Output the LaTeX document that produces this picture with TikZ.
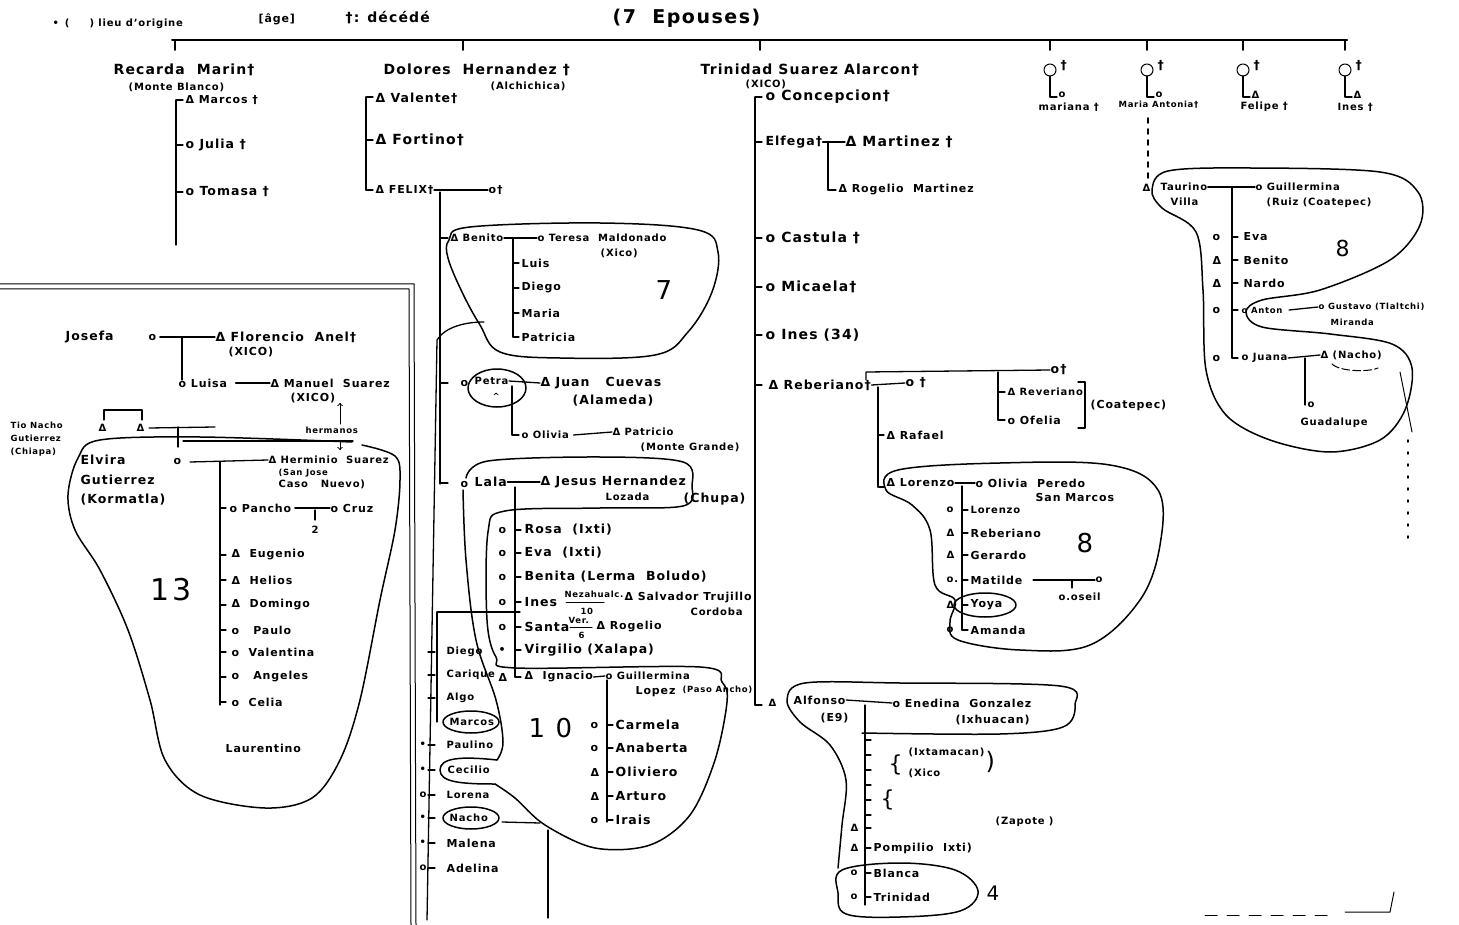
\documentclass[tikz,border=0pt]{standalone}
\usepackage{fontspec}
\setmainfont{DejaVu Sans}[LetterSpace=8]
\begin{document}
\begin{tikzpicture}[x=1pt,y=-1pt,
  line width=1.3pt, line cap=round, line join=round,
  every node/.style={inner sep=0pt, anchor=west},
  fA/.style={font=\fontsize{14}{14}\selectfont\bfseries},
  fB/.style={font=\fontsize{12.5}{12.5}\selectfont\bfseries},
  fC/.style={font=\fontsize{11}{11}\selectfont\bfseries},
  fD/.style={font=\fontsize{10}{10}\selectfont\bfseries},
  fE/.style={font=\fontsize{8.5}{8.5}\selectfont\bfseries},
  fN/.style={font=\fontsize{26}{26}\selectfont},
  blob/.style={line width=1.5pt},
  thinl/.style={line width=1pt},
  tick/.style={line width=1.2pt},
]
\useasboundingbox (0,0) rectangle (1459,925);
\fill[white] (0,0) rectangle (1459,925);

% ---------------- header
\node[fD] (h0) at (52,24) {•\, (\qquad) lieu d'origine};
\node[fC] (h1) at (258,19) {[âge]};
\node[fA] (h2) at (345,18) {†: décédé};
\node[font=\fontsize{19}{19}\selectfont\bfseries] (h3) at (612,18) {(7 \ Epouses)};
\draw[line width=2pt] (172,40) -- (1347,40);
\foreach \x in {175,463,760,1050,1147,1243,1345} \draw[line width=2pt] (\x,40) -- (\x,50);

% ---------------- Recarda
\node[fA] (rec) at (113,70) {Recarda \ Marin†};
\node[fD] (recp) at (128,87) {(Monte Blanco)};
\draw (176,100) -- (176,245);
\foreach \y in {100,145,192} \draw[tick] (176,\y) -- ++(7,0);
\node[fC] (marcos) at (185,100) {Δ Marcos †};
\node[fB] (julia) at (185,145) {o Julia †};
\node[fB] (tomasa) at (185,192) {o Tomasa †};

% ---------------- Dolores
\node[fA] (dol) at (383,70) {Dolores \ Hernandez †};
\node[fD] (dolp) at (490,86) {(Alchichica)};
\draw (366,97) -- (366,190);
\foreach \y in {97,140,190} \draw[tick] (366,\y) -- ++(7,0);
\node[fB] (val) at (375,98) {Δ Valente†};
\node[fA] (fort) at (375,140) {Δ Fortino†};
\node[fC] (felix) at (375,190) {Δ FELIX†};
\node[fC] (felixw) at (488,190) {o†};
\draw (felix.east) -- (felixw.west);
\draw (440,192) -- (440,484);
\foreach \y in {238,383,483} \draw[tick] (440,\y) -- ++(8,0);

% Benito
\node[fD] (ben) at (450,238) {Δ Benito};
\node[fD] (ter) at (537,238) {o Teresa \ Maldonado};
\node[fD] (terp) at (600,253) {(Xico)};
\draw (ben.east) -- (ter.west);
\draw (513,239) -- (513,337);
\foreach \y in {263,288,313,337} \draw[tick] (513,\y) -- ++(6,0);
\node[fC] (luis) at (521,263) {Luis};
\node[fC] (diego1) at (521,288) {Diego};
\node[fC] (maria1) at (521,313) {Maria};
\node[fC] (patr) at (521,337) {Patricia};
\node[fN] (n7) at (655,290) {7};
\draw[blob] plot[smooth cycle, tension=0.6] coordinates {(449,240) (470,227) (600,223) (698,230) (718,252) (712,292) (688,332) (655,355) (560,358) (500,352) (480,325) (462,292) (448,258)};
\draw (484,322) .. controls (465,322) and (445,327) .. (437,340) -- (427,920);

% Petra
\node[fC] (petrao) at (460,383) {o};
\node[fD] (petra) at (474,381) {Petra};
\node[fE] (petrac) at (492,396) {\^{}};
\draw[blob] (497,388) ellipse [x radius=29, y radius=19];
\node[fB] (juan) at (540,383) {Δ Juan \ \ Cuevas};
\node[fB] (juanp) at (572,401) {(Alameda)};
\draw (petra.east) -- (juan.west);
\draw (512,386) -- (512,435) -- (519,435);
\node[fD] (olivia) at (521,435) {o Olivia};
\node[fD] (patric) at (612,432) {Δ Patricio};
\node[fD] (patricp) at (640,447) {(Monte Grande)};
\draw (olivia.east) ++(4,0) -- (patric.west);

% Lala
\node[fC] (lalao) at (460,484) {o};
\node[fB] (lala) at (474,482) {Lala};
\node[fB] (jesus) at (540,482) {Δ Jesus Hernandez};
\node[fD] (lozada) at (605,497) {Lozada};
\node[fB] (chupa) at (683,499) {(Chupa)};
\draw (lala.east) -- (jesus.west);
\draw (515,487) -- (515,677);
\foreach \y in {530,553,577,602,627,650,677} \draw[tick] (515,\y) -- ++(6,0);
\node[fC] (m1) at (498,530) {o}; \node[fB] (rosa) at (524,530) {Rosa \ (Ixti)};
\node[fC] (m2) at (498,553) {o}; \node[fB] (eva1) at (524,553) {Eva \ (Ixti)};
\node[fC] (m3) at (498,577) {o}; \node[fB] (benita) at (524,577) {Benita (Lerma \ Boludo)};
\node[fC] (m4) at (498,602) {o}; \node[fB] (ines1) at (524,602) {Ines};
\node[fE] (nez) at (564,594) {Nezahualc.};
\draw[thinl] (566,602) -- (604,602);
\node[fE] (n10) at (580,611) {10};
\node[fC] (salv) at (624,598) {Δ Salvador Trujillo};
\node[fD] (cord) at (690,612) {Cordoba};
\node[fC] (m5) at (498,627) {o}; \node[fB] (santa) at (524,627) {Santa};
\node[fE] (verc) at (568,620) {Ver.};
\draw[thinl] (570,627) -- (592,627);
\node[fE] (n6) at (578,635) {6};
\node[fC] (rog2) at (596,627) {Δ Rogelio};
\node[fC] (m6) at (498,650) {•}; \node[fB] (virg) at (524,650) {Virgilio (Xalapa)};
\node[fC] (m7) at (498,677) {Δ}; \node[fC] (ignac) at (524,677) {Δ \ Ignacio};
\node[fD] (guil1) at (605,676) {o Guillermina};
\node[fC] (lopez) at (635,692) {Lopez};
\node[fE] (paso) at (682,690) {(Paso Ancho)};
\draw (ignac.east) -- (guil1.west);
\draw (607,680) -- (607,822);
\foreach \y in {725,748,772,796,820} \draw[tick] (607,\y) -- ++(6,0);
\node[fC] (c1o) at (590,725) {o}; \node[fB] (carm) at (615,725) {Carmela};
\node[fC] (c2o) at (590,748) {o}; \node[fB] (anab) at (615,748) {Anaberta};
\node[fC] (c3o) at (590,772) {Δ}; \node[fB] (oliv) at (615,772) {Oliviero};
\node[fC] (c4o) at (590,796) {Δ}; \node[fB] (art) at (615,796) {Arturo};
\node[fC] (c5o) at (590,820) {o}; \node[fB] (irais) at (615,820) {Irais};
\node[fN] (n10b) at (528,728) {1 0};

% left column (x = 427)
\draw (437,612) -- (520,612);
\draw (437,612) -- (437,722);
\foreach \y in {652,675,698,745,770,795,818,843,868} \draw[tick] (428,\y) -- ++(7,0);
\node[fD] (diego2) at (446,652) {Diego};
\node[fD] (cariq) at (446,675) {Carique};
\node[fD] (algo) at (446,698) {Algo};
\node[fD] (marc2) at (449,722) {Marcos};
\node[fD] (paul) at (446,745) {Paulino};
\node[fD] (cecil) at (447,770) {Cecilio};
\node[fD] (lorena) at (446,795) {Lorena};
\node[fD] (nacho1) at (449,818) {Nacho};
\node[fC] (malena) at (446,843) {Malena};
\node[fC] (adel) at (446,868) {Adelina};
\draw[blob] (471,722) ellipse [x radius=28, y radius=11];
\draw[blob] (471,818) ellipse [x radius=28, y radius=11];
\draw[blob] (497,760) .. controls (460,756) and (440,758) .. (440,770) .. controls (440,782) and (460,784) .. (495,784);
\foreach \p/\s in {745/•,770/•,795/o,818/•,843/•,868/o} \node[fD] at (419,\p) {\s};
\draw (502,822) -- (540,823);
\draw (548,830) -- (548,918);

% Lala blobs
\draw[blob] plot[smooth, tension=0.55] coordinates {(466,478) (488,461) (600,457) (683,462) (692,486) (683,506) (600,508) (505,511) (488,532) (487,620) (496,657) (516,668) (700,667) (722,682) (727,702) (715,760) (690,815) (650,845) (595,848) (545,825) (515,798) (495,784)};
\draw[blob] plot[smooth, tension=0.6] coordinates {(463,490) (466,560) (476,640) (496,700) (503,742) (497,760)};

% ---------------- Trinidad
\node[fA] (tri) at (700,70) {Trinidad Suarez Alarcon†};
\node[fD] (trip) at (745,84) {(XICO)};
\draw (755,97) -- (755,705);
\foreach \y in {97,142,238,287,335,385,705} \draw[tick] (755,\y) -- ++(7,0);
\node[fA] (conc) at (765,97) {o Concepcion†};
\node[fB] (elf) at (765,142) {Elfega†};
\node[fA] (mart) at (845,142) {Δ Martinez †};
\draw (elf.east) -- (mart.west);
\draw (828,143) -- (828,190) -- (836,190);
\node[fC] (rog1) at (838,190) {Δ Rogelio \ Martinez};
\node[fA] (cast) at (765,238) {o Castula †};
\node[fA] (mica) at (765,287) {o Micaela†};
\node[fA] (ines2) at (765,335) {o Ines (34)};
\node[fB] (reb) at (768,385) {Δ Reberiano†};
\node[fB] (rebw) at (905,383) {o †};
\draw (reb.east) -- (rebw.west);
\node[fB] (rebw2) at (1050,370) {o†};
\draw (866,380) -- (866,372) -- (rebw2.west);
\draw (998,372) -- (998,420);
\foreach \y in {392,420} \draw[tick] (998,\y) -- ++(7,0);
\node[fD] (rev) at (1007,392) {Δ Reveriano};
\node[fC] (ofe) at (1007,420) {o Ofelia};
\draw (1078,382) -- (1085,382) -- (1085,428) -- (1078,428);
\node[fC] (coat) at (1090,405) {(Coatepec)};
\draw (878,387) -- (878,487);
\foreach \y in {435,487} \draw[tick] (878,\y) -- ++(6,0);
\node[fC] (raf) at (886,435) {Δ Rafael};
\node[fC] (lor) at (886,483) {Δ Lorenzo};
\node[fC] (oli2) at (975,483) {o Olivia \ Peredo};
\node[fC] (sanm) at (1035,497) {San Marcos};
\draw (lor.east) -- (oli2.west);
\draw (962,486) -- (962,630);
\foreach \y in {510,533,555,580,605,630} \draw[tick] (962,\y) -- ++(6,0);
\node[fD] (l1) at (946,510) {o}; \node[fD] (lor2) at (970,510) {Lorenzo};
\node[fD] (l2) at (946,533) {Δ}; \node[fC] (reb2) at (970,533) {Reberiano};
\node[fD] (l3) at (946,555) {Δ}; \node[fC] (ger) at (970,555) {Gerardo};
\node[fD] (l4) at (946,580) {o.}; \node[fC] (mat) at (970,580) {Matilde};
\node[fD] (l5) at (946,605) {Δ}; \node[fC] (yoya) at (970,605) {Yoya};
\node[fD] (l6) at (946,630) {o}; \node[fC] (aman) at (970,630) {Amanda};
\node[fD] (matw) at (1095,580) {o};
\draw (mat.east) ++(10,0) -- (matw.west);
\draw (1072,580) -- (1072,588);
\node[fD] (oseil) at (1058,597) {o.oseil};
\node[fN] (n8a) at (1076,543) {8};
\draw[blob] plot[smooth cycle, tension=0.6] coordinates {(886,490) (898,470) (1000,463) (1110,465) (1158,490) (1160,545) (1140,600) (1090,645) (1020,650) (958,640) (950,622) (955,600) (935,585) (930,530) (912,505)};
\draw[blob] (985,605) ellipse [x radius=31, y radius=12];

% Alfonso
\node[fD] (alfd) at (768,703) {Δ};
\node[fC] (alf) at (793,700) {Alfonso};
\node[fC] (e9) at (820,718) {(E9)};
\node[fC] (ene) at (892,703) {o Enedina \ Gonzalez};
\node[fC] (ixh) at (955,720) {(Ixhuacan)};
\draw (alf.east) -- (ene.west);
\draw (865,705) -- (865,905);
\foreach \y in {740,755,770,785,800,815,828,848,873,897} \draw[tick] (865,\y) -- ++(6,0);
\node[font=\fontsize{22}{22}\selectfont] (br1) at (888,765) {\{};
\node[font=\fontsize{22}{22}\selectfont] (br2) at (880,800) {\{};
\node[fD] (ixt) at (908,752) {(Ixtamacan)};
\node[fD] (xico3) at (908,773) {(Xico};
\node[font=\fontsize{24}{24}\selectfont] (br3) at (985,762) {)};
\node[fD] (zap) at (995,822) {(Zapote )};
\node[fD] (pd1) at (850,828) {Δ};
\node[fD] (pd2) at (850,848) {Δ};
\node[fC] (pomp) at (873,848) {Pompilio \ Ixti)};
\node[fD] (b1) at (850,873) {o}; \node[fC] (blanca) at (873,873) {Blanca};
\node[fD] (b2) at (850,897) {o}; \node[fC] (trini) at (873,897) {Trinidad};
\node[font=\fontsize{20}{20}\selectfont] (n4) at (986,893) {4};
\draw[blob] plot[smooth, tension=0.55] coordinates {(862,733) (1000,734) (1063,727) (1075,705) (1060,686) (900,683) (805,683) (787,700) (800,722) (830,745) (846,780) (842,825) (838,868)};
\draw[blob] plot[smooth cycle, tension=0.6] coordinates {(842,870) (900,863) (955,870) (978,891) (960,911) (900,917) (846,914) (838,893)};

% ---------------- right top
\foreach \x/\c/\id in {1050/o/ka,1147/o/kb,1243/Δ/kc,1345/Δ/kd} {
  \draw[thinl] (\x,70) circle [radius=6];
  \draw (\x,76) -- (\x,97) -- ++(7,0);
  \node[fD] (\id) at (\x+8,95) {\c};
  \node[fB] (\id d) at (\x+10,66) {†};
}
\node[fD] (mari) at (1038,107) {mariana †};
\node[fE] (maan) at (1118,105) {Maria Antonia†};
\node[fD] (feli) at (1240,107) {Felipe †};
\node[fD] (ines3) at (1337,107) {Ines †};
\draw[line width=1.8pt, dash pattern=on 5pt off 6pt] (1148,118) -- (1148,178);
\node[fD] (taud) at (1142,188) {Δ};
\node[fD] (taur) at (1160,187) {Taurino};
\node[fD] (villa) at (1170,202) {Villa};
\node[fD] (guil2) at (1255,187) {o Guillermina};
\node[fD] (ruiz) at (1266,203) {(Ruiz (Coatepec)};
\draw (taur.east) -- (guil2.west);
\draw (1232,188) -- (1232,358);
\foreach \y in {237,260,283,310,358} \draw[tick] (1232,\y) -- ++(6,0);
\node[fC] (r1) at (1212,237) {o}; \node[fC] (eva2) at (1243,237) {Eva};
\node[fC] (r2) at (1212,260) {Δ}; \node[fC] (ben2) at (1243,260) {Benito};
\node[fC] (r3) at (1212,283) {Δ}; \node[fC] (nardo) at (1243,283) {Nardo};
\node[fC] (r4) at (1212,310) {o}; \node[fE] (anton) at (1241,310) {o Anton};
\node[fE] (gust) at (1318,307) {o Gustavo (Tlaltchi)};
\node[fE] (mir) at (1330,322) {Miranda};
\draw (anton.east) ++(6,0) -- (gust.west);
\node[fC] (r5) at (1212,358) {o}; \node[fD] (juana) at (1241,358) {o Juana};
\node[fD] (nacho2) at (1320,355) {Δ (Nacho)};
\draw (juana.east) -- (nacho2.west);
\draw[thinl, dash pattern=on 8pt off 3pt] (1332,364) .. controls (1340,372) and (1370,372) .. (1378,368);
\draw (1305,358) -- (1305,405);
\node[fD] (guad0) at (1307,405) {o};
\node[fD] (guad) at (1300,423) {Guadalupe};
\node[font=\fontsize{22}{22}\selectfont] (n8b) at (1335,248) {8};
\draw[blob] plot[smooth cycle, tension=0.55] coordinates {(1152,190) (1168,171) (1250,168) (1380,172) (1418,192) (1420,225) (1390,260) (1320,290) (1262,300) (1246,312) (1262,327) (1330,334) (1392,344) (1412,368) (1405,410) (1380,440) (1330,452) (1270,440) (1226,415) (1206,370) (1203,290) (1196,232) (1162,208)};
\draw[thinl] (1400,372) -- (1412,432);
\draw[line width=1.5pt, dash pattern=on 2pt off 10pt] (1408,440) -- (1408,545);

% ---------------- left panel
\draw[thinl] (0,284) -- (414,284) -- (416,925);
\draw[thinl] (0,289) -- (409,289) -- (411,925);
\node[fB] (josefa) at (65,337) {Josefa};
\node[fC] (josefao) at (148,337) {o};
\node[fB] (flor) at (215,337) {Δ Florencio \ Anel†};
\node[fC] (florp) at (228,352) {(XICO)};
\draw (josefao.east) ++(3,0) -- (flor.west);
\draw (182,338) -- (182,380);
\node[fC] (luisa) at (178,383) {o Luisa};
\node[fC] (manuel) at (270,383) {Δ Manuel \ Suarez};
\node[fC] (manp) at (290,398) {(XICO)};
\draw (luisa.east) ++(8,0) -- (manuel.west);
\node[fE] (herm) at (305,430) {hermanos};
\draw[thinl, ->] (340,424) -- (340,403);
\node[fE] (tio1) at (10,425) {Tio Nacho};
\node[fE] (tio2) at (10,438) {Gutierrez};
\node[fE] (tio3) at (10,452) {(Chiapa)};
\node[fD] (tr1) at (98,428) {Δ};
\node[fD] (tr2) at (136,428) {Δ};
\draw (104,420) -- (104,410) -- (142,410) -- (142,420);
\draw (tr2.east) ++(4,0) -- (215,427);
\draw (178,427) -- (178,447);
\draw (183,441) -- (353,441);
\draw[thinl, ->] (340,441) -- (340,450);
\node[fB] (elv1) at (80,460) {Elvira};
\node[fB] (elv2) at (80,480) {Gutierrez};
\node[fB] (elv3) at (80,500) {(Kormatla)};
\node[fC] (elvo) at (173,461) {o};
\node[fD] (hermi) at (268,460) {Δ Herminio \ Suarez};
\node[fE] (sanj) at (278,473) {(San Jose};
\node[fD] (caso) at (278,484) {Caso \ \ Nuevo)};
\draw (190,462) -- (hermi.west);
\draw (220,462) -- (220,705);
\foreach \y in {508,555,580,605,630,652,677,702} \draw[tick] (220,\y) -- ++(6,0);
\node[fC] (pancho) at (229,508) {o Pancho};
\node[fC] (cruz) at (330,508) {o Cruz};
\draw (pancho.east) ++(3,0) -- (cruz.west);
\draw (315,510) -- (315,520);
\node[fD] (dos) at (311,530) {2};
\node[fC] (eug) at (231,555) {Δ \ Eugenio};
\node[fC] (hel) at (231,580) {Δ \ Helios};
\node[fC] (dom) at (231,605) {Δ \ Domingo};
\node[fC] (pau) at (231,630) {o \ \ Paulo};
\node[fC] (valt) at (231,652) {o \ Valentina};
\node[fC] (ang) at (231,677) {o \ \ Angeles};
\node[fC] (cel) at (231,702) {o \ Celia};
\node[font=\fontsize{30}{30}\selectfont] (n13) at (150,590) {13};
\node[fC] (laur) at (225,748) {Laurentino};
\draw[blob] plot[smooth, tension=0.55] coordinates {(352,442) (200,437) (100,440) (78,458) (68,495) (75,530) (100,570) (128,630) (150,700) (165,760) (200,795) (265,808) (312,798) (340,760) (360,700) (380,600) (395,530) (400,480) (395,456) (362,445)};

% bottom odds
\draw[thinl, dash pattern=on 12pt off 10pt] (1205,915) -- (1330,915);
\draw[thinl] (1345,912) -- (1390,912) -- (1394,892);
\end{tikzpicture}
\end{document}
